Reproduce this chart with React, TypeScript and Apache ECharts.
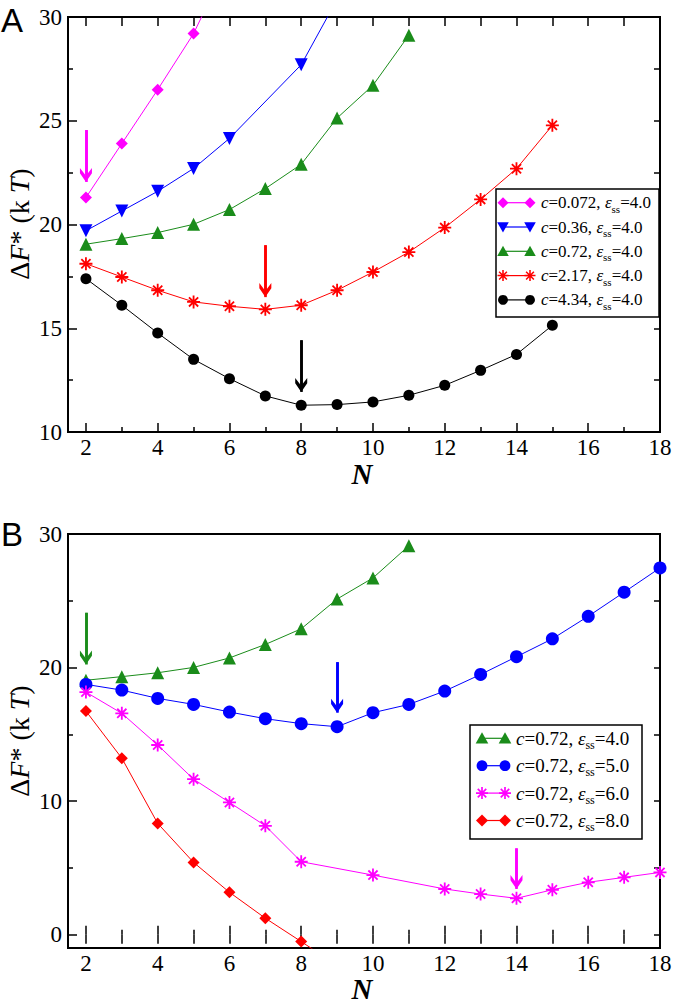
import React, { useEffect, useRef } from 'react';
import * as echarts from 'echarts';

const SERIF = 'Liberation Serif';
const SANS = 'Liberation Sans';

const MAG = '#ff00ff';
const BLUE = '#0000ff';
const GREEN = '#1a8c1a';
const RED = '#ff0000';
const BLACK = '#000000';

// ---------- tick labels ----------
const xTickLabels = [2, 4, 6, 8, 10, 12, 14, 16, 18];
const xMinorTicks = [3, 5, 7, 9, 11, 13, 15, 17];
const xAllTicks = [2, 3, 4, 5, 6, 7, 8, 9, 10, 11, 12, 13, 14, 15, 16, 17, 18];
const yTickLabelsB = [0, 10, 20, 30];
const yMinorTicksB = [5, 15, 25];
const yAllTicksB = [0, 5, 10, 15, 20, 25, 30];

// ---------- Panel A data ----------
const nA_c0072 = [2, 3, 4, 5, 6];
const fA_c0072 = [21.3, 23.9, 26.5, 29.2, 32.8];
const nA_c036 = [2, 3, 4, 5, 6, 8, 10];
const fA_c036 = [19.7, 20.65, 21.6, 22.7, 24.15, 27.7, 34.0];
const nA_c072 = [2, 3, 4, 5, 6, 7, 8, 9, 10, 11];
const fA_c072 = [19.05, 19.32, 19.61, 20.01, 20.72, 21.73, 22.9, 25.13, 26.71, 29.12];
const nA_c217 = [2, 3, 4, 5, 6, 7, 8, 9, 10, 11, 12, 13, 14, 15];
const fA_c217 = [18.11, 17.47, 16.83, 16.27, 16.06, 15.91, 16.11, 16.83, 17.71, 18.67, 19.85, 21.21, 22.69, 24.78];
const nA_c434 = [2, 3, 4, 5, 6, 7, 8, 9, 10, 11, 12, 13, 14, 15];
const fA_c434 = [17.39, 16.11, 14.77, 13.5, 12.57, 11.74, 11.29, 11.32, 11.45, 11.77, 12.25, 12.97, 13.74, 15.14];

// ---------- Panel B data ----------
const nB_e4 = [2, 3, 4, 5, 6, 7, 8, 9, 10, 11];
const fB_e4 = [19.05, 19.32, 19.61, 20.01, 20.72, 21.73, 22.9, 25.13, 26.71, 29.12];
const nB_e5 = [2, 3, 4, 5, 6, 7, 8, 9, 10, 11, 12, 13, 14, 15, 16, 17, 18];
const fB_e5 = [18.74, 18.31, 17.69, 17.24, 16.67, 16.17, 15.8, 15.57, 16.62, 17.24, 18.24, 19.48, 20.81, 22.15, 23.84, 25.64, 27.46];
const nB_e6 = [2, 3, 4, 5, 6, 7, 8, 10, 12, 13, 14, 15, 16, 17, 18];
const fB_e6 = [18.16, 16.57, 14.2, 11.64, 9.9, 8.15, 5.46, 4.46, 3.42, 3.04, 2.72, 3.36, 3.92, 4.29, 4.66];
const nB_e8 = [2, 3, 4, 5, 6, 7, 8, 9];
const fB_e8 = [16.74, 13.21, 8.33, 5.41, 3.17, 1.23, -0.52, -2.3];

// ---------- arrows (x, start y, tip y) ----------
const arrowA_mag = [2, 24.55, 22.05];
const arrowA_red = [7, 19.0, 16.5];
const arrowA_black = [8, 14.42, 11.93];
const arrowB_green = [2, 24.1, 20.23];
const arrowB_blue = [9, 20.4, 16.62];
const arrowB_mag = [14, 6.46, 3.42];

// ---------- legends ----------
const legendA = [
  { c: '0.072', eps: '4.0', color: MAG, marker: 'diamond' },
  { c: '0.36', eps: '4.0', color: BLUE, marker: 'tridown' },
  { c: '0.72', eps: '4.0', color: GREEN, marker: 'triup' },
  { c: '2.17', eps: '4.0', color: RED, marker: 'asterisk' },
  { c: '4.34', eps: '4.0', color: BLACK, marker: 'circle' },
];
const legendB = [
  { c: '0.72', eps: '4.0', color: GREEN, marker: 'triup' },
  { c: '0.72', eps: '5.0', color: BLUE, marker: 'circle' },
  { c: '0.72', eps: '6.0', color: MAG, marker: 'asterisk' },
  { c: '0.72', eps: '8.0', color: RED, marker: 'diamond' },
];

const ASTERISK_D =
  'M8.6,0 L11.4,0 L11.4,20 L8.6,20 Z M0,8.6 L20,8.6 L20,11.4 L0,11.4 Z ' +
  'M1.94,3.92 L3.92,1.94 L18.06,16.08 L16.08,18.06 Z M16.08,1.94 L18.06,3.92 L3.92,18.06 L1.94,16.08 Z';
const ASTERISK = 'path://' + ASTERISK_D;
const CHEVRON = 'path://M10,0 L20,10 L20,16 L10,7 L0,16 L0,10 Z';

let shapeRegistered = false;
function ensureShape() {
  if (shapeRegistered) return;
  echarts.graphic.registerShape('asteriskMark', echarts.graphic.extendPath(ASTERISK_D, {}));
  shapeRegistered = true;
}

function zip(xs: number[], ys: number[]) {
  return xs.map((x, i) => [x, ys[i]]);
}

function arrowMark(a: number[], color: string, shift: number) {
  return {
    silent: true,
    animation: false,
    symbol: ['none', 'none'],
    symbolSize: [12, 14],
    itemStyle: { color, borderWidth: 0 },
    lineStyle: { color, width: 2.6, type: 'solid' },
    label: { show: false },
    emphasis: { disabled: true },
    data: [
      [{ coord: [a[0], a[1]] }, { coord: [a[0], a[2]] }],
      [
        { coord: [a[0], a[1]], symbol: 'none' },
        { coord: [a[0], a[2] + shift], symbol: CHEVRON, symbolSize: [12, 14] },
      ],
    ],
  };
}

function series(
  name: string,
  xs: number[],
  ys: number[],
  color: string,
  symbol: string,
  size: number,
  xi: number,
  yi: number,
  extra: any = {}
) {
  return {
    type: 'line',
    name,
    xAxisIndex: xi,
    yAxisIndex: yi,
    data: zip(xs, ys),
    symbol,
    symbolSize: size,
    showSymbol: true,
    lineStyle: { color, width: 1 },
    itemStyle: { color },
    clip: true,
    silent: true,
    ...extra,
  };
}

const tickStyle = { color: '#000', width: 1.5 };
const labelStyle = {
  fontFamily: SERIF,
  fontSize: 23,
  color: '#000',
  formatter: '{t|{value}}',
  rich: { t: { fontFamily: SERIF, fontSize: 23, color: '#000' } },
};

function xAxes(grid: number) {
  const base = {
    gridIndex: grid,
    type: 'value',
    min: 1.5,
    max: 18,
    axisLine: { show: false },
    splitLine: { show: false },
  };
  return [
    {
      ...base,
      position: 'bottom',
      axisTick: { show: true, inside: true, length: 9, customValues: xTickLabels, lineStyle: tickStyle },
      axisLabel: { show: true, customValues: xTickLabels, ...labelStyle, margin: 4 },
    },
    {
      ...base,
      position: 'bottom',
      axisTick: { show: true, inside: true, length: 5, customValues: xMinorTicks, lineStyle: tickStyle },
      axisLabel: { show: false },
    },
    {
      ...base,
      position: 'top',
      axisTick: { show: true, inside: true, length: 9, customValues: xAllTicks, lineStyle: tickStyle },
      axisLabel: { show: false },
    },
  ];
}

function markerEls(kind: string, cx: number, cy: number, color: string, s: number) {
  const h = s / 2;
  const z = 102;
  if (kind === 'diamond') {
    return [{ type: 'polygon', z, shape: { points: [[cx, cy - h], [cx + h, cy], [cx, cy + h], [cx - h, cy]] }, style: { fill: color } }];
  }
  if (kind === 'triup') {
    return [{ type: 'polygon', z, shape: { points: [[cx - h * 1.05, cy + h * 0.85], [cx + h * 1.05, cy + h * 0.85], [cx, cy - h]] }, style: { fill: color } }];
  }
  if (kind === 'tridown') {
    return [{ type: 'polygon', z, shape: { points: [[cx - h * 1.05, cy - h * 0.85], [cx + h * 1.05, cy - h * 0.85], [cx, cy + h]] }, style: { fill: color } }];
  }
  if (kind === 'circle') {
    return [{ type: 'circle', z, shape: { cx, cy, r: h * 0.9 }, style: { fill: color } }];
  }
  return [{ type: 'asteriskMark', z, x: cx - h, y: cy - h, scaleX: s / 20, scaleY: s / 20, style: { fill: color } }];
}

function legendEls(
  items: any[],
  box: { x: number; y: number; w: number; h: number },
  y0: number,
  step: number,
  x1: number,
  x2: number,
  tx: number,
  fs: number,
  ms: number
) {
  const els: any[] = [
    {
      type: 'rect',
      z: 100,
      shape: { x: box.x, y: box.y, width: box.w, height: box.h },
      style: { fill: '#fff', stroke: '#000', lineWidth: 1.5 },
    },
  ];
  items.forEach((it, i) => {
    const y = y0 + i * step;
    els.push({ type: 'line', z: 101, shape: { x1, y1: y, x2, y2: y }, style: { stroke: it.color, lineWidth: 1.2 } });
    els.push(...markerEls(it.marker, x1, y, it.color, ms));
    els.push(...markerEls(it.marker, x2, y, it.color, ms));
    els.push({
      type: 'text',
      z: 103,
      x: tx,
      y,
      style: {
        text: `{i|c}{n|=${it.c}, }{i|ε}{s|ss}{n|=${it.eps}}`,
        align: 'left',
        verticalAlign: 'middle',
        fill: '#000',
        fontFamily: SERIF,
        fontSize: fs,
        rich: {
          n: { fontFamily: SERIF, fontSize: fs, lineHeight: fs + 6, fill: '#000' },
          i: { fontFamily: SERIF, fontSize: fs, fontStyle: 'italic', lineHeight: fs + 6, fill: '#000' },
          s: { fontFamily: SERIF, fontSize: Math.round(fs * 0.62), verticalAlign: 'bottom', lineHeight: 11, fill: '#000' },
        },
      },
    });
  });
  return els;
}

function yTitle(cy: number) {
  const fs = 28;
  return {
    type: 'text',
    x: 19,
    y: cy,
    rotation: Math.PI / 2,
    style: {
      text: '{n|Δ}{i|F}{n|* (k}{i| T}{n|)}',
      align: 'center',
      verticalAlign: 'middle',
      fill: '#000',
      fontFamily: SERIF,
      fontSize: fs,
      rich: {
        n: { fontFamily: SERIF, fontSize: fs, fill: '#000' },
        i: { fontFamily: SERIF, fontSize: fs, fontStyle: 'italic', fill: '#000' },
      },
    },
  };
}

function xTitle(cy: number) {
  return {
    type: 'text',
    x: 362,
    y: cy,
    style: {
      text: 'N',
      align: 'center',
      verticalAlign: 'middle',
      fill: '#000',
      fontFamily: SERIF,
      fontSize: 29,
      fontStyle: 'italic',
      fontWeight: 'bold',
    },
  };
}

function buildOption() {
  const shiftA = 0.34;
  const shiftB = 0.52;
  return {
    animation: false,
    backgroundColor: '#fff',
    textStyle: { fontFamily: SERIF },
    grid: [
      { left: 68, top: 17, width: 592, height: 415, show: true, borderColor: '#000', borderWidth: 2, backgroundColor: 'transparent' },
      { left: 68, top: 534, width: 592, height: 414, show: true, borderColor: '#000', borderWidth: 2, backgroundColor: 'transparent' },
    ],
    xAxis: [...xAxes(0), ...xAxes(1)],
    yAxis: [
      {
        gridIndex: 0,
        type: 'value',
        position: 'left',
        min: 10,
        max: 30,
        interval: 5,
        axisLine: { show: false },
        splitLine: { show: false },
        axisTick: { show: true, inside: true, length: 9, lineStyle: tickStyle },
        minorTick: { show: true, splitNumber: 2, length: 5, lineStyle: tickStyle },
        minorSplitLine: { show: false },
        axisLabel: { ...labelStyle, margin: 6 },
      },
      {
        gridIndex: 0,
        type: 'value',
        position: 'right',
        min: 10,
        max: 30,
        interval: 2.5,
        axisLine: { show: false },
        splitLine: { show: false },
        axisTick: { show: true, inside: true, length: 6, lineStyle: tickStyle },
        axisLabel: { show: false },
      },
      {
        gridIndex: 1,
        type: 'value',
        position: 'left',
        min: -1,
        max: 30,
        axisLine: { show: false },
        splitLine: { show: false },
        axisTick: { show: true, inside: true, length: 9, customValues: yTickLabelsB, lineStyle: tickStyle },
        axisLabel: { customValues: yTickLabelsB, ...labelStyle, margin: 6 },
      },
      {
        gridIndex: 1,
        type: 'value',
        position: 'left',
        min: -1,
        max: 30,
        axisLine: { show: false },
        splitLine: { show: false },
        axisTick: { show: true, inside: true, length: 5, customValues: yMinorTicksB, lineStyle: tickStyle },
        axisLabel: { show: false },
      },
      {
        gridIndex: 1,
        type: 'value',
        position: 'right',
        min: -1,
        max: 30,
        axisLine: { show: false },
        splitLine: { show: false },
        axisTick: { show: true, inside: true, length: 6, customValues: yAllTicksB, lineStyle: tickStyle },
        axisLabel: { show: false },
      },
    ],
    series: [
      series('c=0.072', nA_c0072, fA_c0072, MAG, 'diamond', 12, 0, 0, { markLine: arrowMark(arrowA_mag, MAG, shiftA) }),
      series('c=0.36', nA_c036, fA_c036, BLUE, 'triangle', 13, 0, 0, { symbolRotate: 180 }),
      series('c=0.72', nA_c072, fA_c072, GREEN, 'triangle', 13, 0, 0),
      series('c=2.17', nA_c217, fA_c217, RED, ASTERISK, 13, 0, 0, { markLine: arrowMark(arrowA_red, RED, shiftA) }),
      series('c=4.34', nA_c434, fA_c434, BLACK, 'circle', 11, 0, 0, { markLine: arrowMark(arrowA_black, BLACK, shiftA) }),
      series('eps=4.0', nB_e4, fB_e4, GREEN, 'triangle', 13, 3, 2, { markLine: arrowMark(arrowB_green, GREEN, shiftB) }),
      series('eps=5.0', nB_e5, fB_e5, BLUE, 'circle', 13, 3, 2, { markLine: arrowMark(arrowB_blue, BLUE, shiftB) }),
      series('eps=6.0', nB_e6, fB_e6, MAG, ASTERISK, 13, 3, 2, { markLine: arrowMark(arrowB_mag, MAG, shiftB) }),
      series('eps=8.0', nB_e8, fB_e8, RED, 'diamond', 12, 3, 2),
    ],
    graphic: [
      {
        type: 'text',
        x: 1,
        y: 20,
        style: { text: 'A', fontFamily: SANS, fontSize: 33, fill: '#000', align: 'left', verticalAlign: 'middle' },
      },
      {
        type: 'text',
        x: 1,
        y: 534,
        style: { text: 'B', fontFamily: SANS, fontSize: 33, fill: '#000', align: 'left', verticalAlign: 'middle' },
      },
      yTitle(224),
      yTitle(741),
      xTitle(474),
      xTitle(989),
      ...legendEls(legendA, { x: 496, y: 189, w: 163, h: 128 }, 202.7, 24.3, 503, 530, 541, 17, 11),
      ...legendEls(legendB, { x: 470, y: 725, w: 172, h: 114 }, 738.3, 27.4, 482, 505, 516, 19, 12),
    ],
  };
}

export default function App() {
  const ref = useRef<HTMLDivElement>(null);
  useEffect(() => {
    ensureShape();
    const chart = echarts.init(ref.current!, null, { renderer: 'svg' });
    chart.setOption(buildOption() as any);
    return () => chart.dispose();
  }, []);
  return (
    <div
      ref={ref}
      style={{ position: 'fixed', left: 0, top: 0, width: 677, height: 1004, background: '#fff' }}
    />
  );
}
